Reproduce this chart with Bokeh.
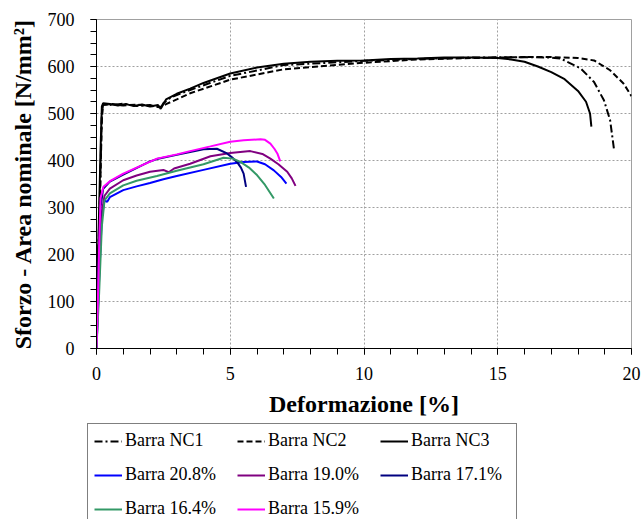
from bokeh.plotting import figure
from bokeh.layouts import column, row
from bokeh.models import Range1d, Legend, LegendItem, SingleIntervalTicker
from bokeh.embed import file_html
from bokeh.resources import INLINE

# ---- data ----
nc1_x = [0, 0.05, 0.12, 0.2, 0.25, 0.6, 1.0, 1.5, 2.0, 2.4, 2.5, 2.8, 3.5, 5.0, 7.0, 10.0, 12.0, 14.0, 16.0, 17.0, 17.35, 18.1, 18.6, 18.97, 19.2, 19.35]
nc1_y = [0, 170, 310, 500, 520, 518, 521, 516, 518, 512, 522, 535, 550, 580, 603, 612, 616, 619, 620, 619, 617, 596, 567, 528, 486, 422]

nc2_x = [0, 0.05, 0.12, 0.2, 0.25, 0.6, 1.0, 1.5, 2.0, 2.4, 2.6, 3.0, 3.5, 5.0, 7.0, 10.0, 12.0, 14.0, 16.0, 17.0, 18.0, 18.6, 19.2, 19.7, 20.0]
nc2_y = [0, 160, 290, 490, 518, 520, 517, 519, 516, 514, 520, 530, 543, 572, 594, 608, 615, 618, 620, 620, 618, 613, 592, 564, 537]

nc3_x = [0, 0.05, 0.1, 0.15, 0.2, 0.25, 0.5, 0.8, 1.1, 1.4, 1.7, 2.0, 2.3, 2.4, 2.6, 3.0, 3.5, 4.0, 5.0, 6.0, 7.0, 8.0, 9.0, 10.0, 11.0, 12.0, 13.0, 14.0, 15.0, 15.5, 16.0, 16.5, 17.0, 17.5, 18.0, 18.3, 18.45, 18.5]
nc3_y = [0, 180, 300, 420, 515, 522, 520, 517, 520, 516, 519, 515, 518, 510, 530, 542, 553, 565, 585, 598, 606, 610, 612, 613, 616, 617, 619, 619, 618, 615, 610, 600, 588, 573, 548, 525, 500, 472]

b208_x = [0, 0.1, 0.2, 0.3, 0.4, 0.5, 1.0, 1.5, 2.0, 2.5, 3.0, 4.0, 5.0, 5.5, 6.0, 6.3, 6.63, 6.9, 7.1]
b208_y = [0, 150, 280, 315, 312, 322, 337, 345, 352, 360, 367, 380, 393, 397, 398, 392, 379, 365, 351]

b190_x = [0, 0.1, 0.2, 0.3, 0.5, 1.0, 1.5, 2.0, 2.5, 2.7, 2.9, 3.5, 4.26, 5.0, 5.75, 6.2, 6.5, 6.8, 7.13, 7.3, 7.44]
b190_y = [0, 160, 290, 325, 340, 358, 368, 376, 380, 375, 383, 393, 409, 416, 420, 414, 404, 392, 376, 362, 346]

b171_x = [0, 0.08, 0.15, 0.25, 0.5, 1.0, 2.0, 2.26, 3.0, 3.5, 4.0, 4.5, 4.88, 5.1, 5.25, 5.4, 5.5, 5.59]
b171_y = [0, 180, 300, 340, 355, 370, 398, 403, 412, 418, 424, 425, 415, 405, 397, 385, 372, 344]

b164_x = [0, 0.1, 0.2, 0.3, 0.5, 1.0, 1.5, 2.26, 3.0, 4.0, 4.75, 5.1, 5.38, 5.7, 6.0, 6.3, 6.63]
b164_y = [0, 120, 260, 315, 330, 347, 357, 367, 378, 392, 406, 404, 397, 385, 369, 348, 319]

b159_x = [0, 0.05, 0.1, 0.15, 0.26, 0.5, 1.0, 1.5, 2.26, 3.0, 3.5, 4.26, 5.0, 5.5, 6.13, 6.3, 6.5, 6.65, 6.76, 6.87]
b159_y = [0, 100, 220, 320, 344, 356, 372, 385, 404, 413, 420, 430, 440, 443, 445, 444, 436, 425, 415, 398]

labels = ["Barra NC1", "Barra NC2", "Barra NC3", "Barra 20.8%", "Barra 19.0%",
          "Barra 17.1%", "Barra 16.4%", "Barra 15.9%"]
colors = ["black", "black", "black", "#0000FF", "#800080", "#000080", "#339966", "#FF00FF"]
dashes = ["8 3 2 3", "6 3", "solid", "solid", "solid", "solid", "solid", "solid"]
series = [(nc1_x, nc1_y), (nc2_x, nc2_y), (nc3_x, nc3_y), (b208_x, b208_y),
          (b190_x, b190_y), (b171_x, b171_y), (b164_x, b164_y), (b159_x, b159_y)]
# legend reading order: three per row, filled column by column below
legend_order = [0, 3, 6, 1, 4, 7, 2, 5]

FONT = "Liberation Serif"

p = figure(width=642, height=423, output_backend="svg", toolbar_location=None,
           x_range=Range1d(0, 20), y_range=Range1d(0, 700),
           min_border_left=96, min_border_right=11, min_border_top=19,
           min_border_bottom=75)
p.background_fill_color = "white"
p.border_fill_color = "white"
p.outline_line_color = "#A0A0A0"
p.outline_line_width = 1

# axes
p.xaxis.ticker = SingleIntervalTicker(interval=5, num_minor_ticks=5)
p.yaxis.ticker = SingleIntervalTicker(interval=100, num_minor_ticks=4)
for ax in (p.xaxis[0], p.yaxis[0]):
    ax.axis_line_color = "black"
    ax.axis_line_width = 1
    ax.major_tick_line_color = "black"
    ax.minor_tick_line_color = "black"
    ax.major_tick_in = 0
    ax.major_tick_out = 6
    ax.minor_tick_in = 0
    ax.minor_tick_out = 6
    ax.major_label_text_font = FONT
    ax.major_label_text_font_size = "18px"
    ax.major_label_text_color = "black"
    ax.axis_label_text_font = FONT
    ax.axis_label_text_font_size = "24px"
    ax.axis_label_text_font_style = "bold"
    ax.axis_label_text_color = "black"
p.xaxis.axis_label = "Deformazione [%]"
p.yaxis.axis_label = "Sforzo - Area nominale [N/mm²]"
p.xaxis.major_label_standoff = 12
p.yaxis.major_label_standoff = 16
p.xaxis.axis_label_standoff = 8
p.yaxis.axis_label_standoff = 9

# grid
for g in (p.xgrid[0], p.ygrid[0]):
    g.grid_line_color = "#A0A0A0"
    g.grid_line_dash = "2 2"
    g.grid_line_width = 1

for (xs, ys), c, d in zip(series, colors, dashes):
    p.line(xs, ys, line_color=c, line_width=2, line_dash=d)

# legend panel (its lower border is cut by the page edge, as in the reference)
p2 = figure(width=642, height=96, output_backend="svg", toolbar_location=None,
            x_range=Range1d(100, 101), y_range=Range1d(100, 101),
            x_axis_type=None, y_axis_type=None,
            min_border_left=0, min_border_right=0, min_border_top=0,
            min_border_bottom=0)
p2.outline_line_color = None
p2.grid.visible = False
key_renderers = []
for (xs, ys), c, d in zip(series, colors, dashes):
    # legend-key renderers: same series, kept outside this panel's visible range
    key_renderers.append(p2.line(xs[:2], ys[:2], line_color=c, line_width=2, line_dash=d))
items = [LegendItem(label=labels[i], renderers=[key_renderers[i]]) for i in legend_order]
legend = Legend(items=items, orientation="vertical", ncols=3, nrows=3,
                location=(87, -7),
                label_text_font=FONT, label_text_font_size="18px",
                label_text_color="black",
                glyph_width=28, glyph_height=20, label_height=20,
                label_width=99, label_standoff=3, spacing=13,
                padding=6, margin=0,
                border_line_color="black", border_line_width=1,
                background_fill_color="white", background_fill_alpha=1)
p2.add_layout(legend, "center")

layout = column(p, row(p2), spacing=0)
open("out.html", "w").write(file_html(layout, INLINE))
